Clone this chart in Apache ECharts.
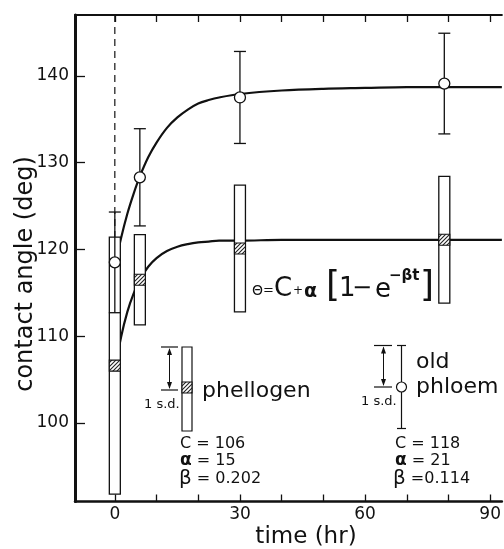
<!DOCTYPE html>
<html><head><meta charset="utf-8">
<script src="https://cdn.jsdelivr.net/npm/echarts@6/dist/echarts.min.js"></script>
<style>html,body{margin:0;padding:0;background:#fff}#c{width:504px;height:549px}</style>
</head><body><div id="c"></div>
<script>
const FONT = '"DejaVu Sans", sans-serif';
const INK = '#111';

// ---- data ----
const sampleTimes = [0, 6, 30, 79];
const phloemMean = [118.5, 128.3, 137.5, 139.1];
const phloemSd = [5.8, 5.6, 5.3, 5.8];
const phellogenMean = [106.6, 116.5, 120.1, 121.1];
const phellogenSd = [14.8, 5.2, 7.3, 7.3];
const fitTimes = [0, 1.5, 3, 4.5, 6, 8, 10, 12.5, 15, 17.5, 20, 22.5, 25, 30, 40, 50, 60, 70, 80, 92.8];
const phloemFit = [118, 121.3, 124.1, 126.4, 128.4, 130.6, 132.3, 134.0, 135.2, 136.1, 136.8, 137.2, 137.5, 137.9, 138.3, 138.5, 138.6, 138.7, 138.7, 138.7];
const phellogenFit = [106, 109.9, 112.8, 114.9, 116.5, 118.0, 119.0, 119.8, 120.3, 120.6, 120.8, 120.9, 121.0, 121.0, 121.1, 121.1, 121.1, 121.1, 121.1, 121.1];
const xTicks = [0, 10, 20, 30, 40, 50, 60, 70, 80, 90];
const xLabels = [0, 30, 60, 90];
const yTicks = [100, 110, 120, 130, 140];
const dashedGuide = [[0, 147], [0, 121.4]];

function hatchCanvas() {
  const c = document.createElement('canvas');
  c.width = 4; c.height = 4;
  const g = c.getContext('2d');
  g.fillStyle = '#fff'; g.fillRect(0, 0, 4, 4);
  g.strokeStyle = '#222'; g.lineWidth = 1.1;
  g.beginPath();
  g.moveTo(-1, 5); g.lineTo(5, -1);
  g.moveTo(-1, 1); g.lineTo(1, -1);
  g.moveTo(3, 5); g.lineTo(5, 3);
  g.stroke();
  return c;
}
const hatchFill = { image: hatchCanvas(), repeat: 'repeat' };

const chart = echarts.init(document.getElementById('c'), null, { renderer: 'canvas' });

function line(x1, y1, x2, y2, w) {
  return { type: 'line', shape: { x1, y1, x2, y2 }, style: { stroke: INK, lineWidth: w || 1.2 }, z: 20 };
}
function txt(x, y, text, size, opts) {
  opts = opts || {};
  return { type: 'text', x, y, z: 20, rotation: opts.rotation || 0,
    style: { text, fill: INK, font: (opts.weight || 'normal') + ' ' + size + 'px ' + FONT,
      align: opts.align || 'left', verticalAlign: 'middle' } };
}
function bracket(xl, xr, yTop, yBot, xv) {
  return [
    line(xl, yTop, xr, yTop, 1.2), line(xl, yBot, xr, yBot, 1.2),
    line(xv, yTop + 2, xv, yBot - 2, 1),
    { type: 'polygon', z: 20, shape: { points: [[xv, yTop + 1], [xv - 2.5, yTop + 8], [xv + 2.5, yTop + 8]] }, style: { fill: INK } },
    { type: 'polygon', z: 20, shape: { points: [[xv, yBot - 1], [xv - 2.5, yBot - 8], [xv + 2.5, yBot - 8]] }, style: { fill: INK } }
  ];
}

const graphics = [];
// axis titles
graphics.push(txt(26, 274, 'contact angle (deg)', 24, { rotation: Math.PI / 2, align: 'center' }));
graphics.push(txt(306, 537, 'time (hr)', 23, { align: 'center' }));
// phellogen legend
graphics.push({ type: 'rect', z: 20, shape: { x: 182, y: 347, width: 10, height: 84 }, style: { fill: '#fff', stroke: INK, lineWidth: 1.2 } });
graphics.push({ type: 'rect', z: 21, shape: { x: 182, y: 382, width: 10, height: 11 }, style: { fill: hatchFill, stroke: INK, lineWidth: 1.1 } });
graphics.push(...bracket(161, 178, 347, 390, 169.5));
graphics.push(txt(144, 405, '1 s.d.', 13));
graphics.push(txt(202, 391, 'phellogen', 22));
graphics.push(txt(180, 444, 'C = 106', 16));
graphics.push({ type: 'text', x: 180, y: 461, z: 20, style: { text: '{a|α} = 15', fill: INK, font: '16px ' + FONT, verticalAlign: 'middle', rich: { a: { font: 'bold 17px ' + FONT, fill: INK } } } });
graphics.push({ type: 'text', x: 179, y: 479, z: 20, style: { text: '{b|β} = 0.202', fill: INK, font: '16px ' + FONT, verticalAlign: 'middle', rich: { b: { font: '20px ' + FONT, fill: INK } } } });
// old phloem legend
graphics.push(line(401.5, 345.5, 401.5, 428.5, 1.2));
graphics.push(line(397, 345.5, 406, 345.5, 1.2));
graphics.push(line(397, 428.5, 406, 428.5, 1.2));
graphics.push({ type: 'circle', z: 21, shape: { cx: 401.5, cy: 387, r: 5 }, style: { fill: '#fff', stroke: INK, lineWidth: 1.2 } });
graphics.push(...bracket(374, 392, 345.5, 387, 383.5));
graphics.push(txt(361, 402, '1 s.d.', 13));
graphics.push(txt(416, 362, 'old', 22));
graphics.push(txt(416, 387, 'phloem', 22));
graphics.push(txt(395, 444, 'C = 118', 16));
graphics.push({ type: 'text', x: 395, y: 461, z: 20, style: { text: '{a|α} = 21', fill: INK, font: '16px ' + FONT, verticalAlign: 'middle', rich: { a: { font: 'bold 17px ' + FONT, fill: INK } } } });
graphics.push({ type: 'text', x: 393, y: 479, z: 20, style: { text: '{b|β} =0.114', fill: INK, font: '16px ' + FONT, verticalAlign: 'middle', rich: { b: { font: '20px ' + FONT, fill: INK } } } });
// formula
graphics.push(txt(252, 291, 'Θ', 14));
graphics.push(txt(263, 291, '=', 13));
graphics.push(txt(274, 289, 'C', 26));
graphics.push(txt(293, 291, '+', 12));
graphics.push(txt(304, 292, 'α', 19, { weight: 'bold' }));
graphics.push(txt(326, 287, '[', 36));
graphics.push(txt(339, 289, '1', 26));
graphics.push(txt(352, 289, '−', 24));
graphics.push(txt(375, 290, 'e', 26));
graphics.push(txt(389, 276, '−βt', 15, { weight: 'bold' }));
graphics.push(txt(420, 287, ']', 36));

const xBase = {
  type: 'value', min: -9.55, max: 92.8,
  axisLine: { show: true, onZero: false, lineStyle: { color: INK, width: 2.5 } },
  axisTick: { show: true, inside: true, length: 7, customValues: xTicks, lineStyle: { color: INK, width: 1.3 } },
  splitLine: { show: false }
};

const option = {
  animation: false,
  backgroundColor: '#fff',
  grid: { left: 75, right: 0, top: 15, bottom: 47.5, containLabel: false },
  xAxis: [
    Object.assign({}, xBase, { position: 'bottom',
      axisLabel: { show: true, customValues: xLabels, color: INK, fontSize: 17, fontFamily: FONT, margin: 5 } }),
    Object.assign({}, xBase, { position: 'top', axisLine: { show: true, onZero: false, lineStyle: { color: INK, width: 2 } },
      axisLabel: { show: false } })
  ],
  yAxis: {
    type: 'value', min: 90.95, max: 147,
    axisLine: { show: true, onZero: false, lineStyle: { color: INK, width: 3 } },
    axisTick: { show: true, inside: true, length: 10, customValues: yTicks, lineStyle: { color: INK, width: 1.3 } },
    axisLabel: { show: true, customValues: yTicks, color: INK, fontSize: 17, fontFamily: FONT, margin: 6 },
    splitLine: { show: false }
  },
  graphic: graphics,
  series: [
    { type: 'line', data: dashedGuide, symbol: 'none', z: 1, silent: true,
      lineStyle: { color: INK, width: 1.2, type: [7, 5] } },
    { type: 'line', data: fitTimes.map((t, i) => [t, phloemFit[i]]), symbol: 'none', smooth: 0.35, z: 2,
      lineStyle: { color: INK, width: 2.2 } },
    { type: 'line', data: fitTimes.map((t, i) => [t, phellogenFit[i]]), symbol: 'none', smooth: 0.35, z: 2,
      lineStyle: { color: INK, width: 2.2 } },
    { type: 'custom', z: 3,
      data: sampleTimes.map((t, i) => [t, phellogenMean[i], phellogenSd[i]]),
      encode: { x: 0, y: 1 },
      renderItem: function (params, api) {
        const t = api.value(0), m = api.value(1), s = api.value(2);
        const top = api.coord([t, m + s]), bot = api.coord([t, m - s]), mid = api.coord([t, m]);
        const w = 11, x = top[0] - w / 2;
        return { type: 'group', children: [
          { type: 'rect', shape: { x, y: top[1], width: w, height: bot[1] - top[1] }, style: { fill: '#fff', stroke: INK, lineWidth: 1.3 } },
          { type: 'rect', shape: { x, y: mid[1] - 5.5, width: w, height: 11 }, style: { fill: hatchFill, stroke: INK, lineWidth: 1.1 } }
        ] };
      } },
    { type: 'custom', z: 4,
      data: sampleTimes.map((t, i) => [t, phloemMean[i], phloemSd[i]]),
      encode: { x: 0, y: 1 },
      renderItem: function (params, api) {
        const t = api.value(0), m = api.value(1), s = api.value(2);
        const a = api.coord([t, m + s]), b = api.coord([t, m - s]);
        const h = 6;
        const st = { stroke: INK, lineWidth: 1.3 };
        return { type: 'group', children: [
          { type: 'line', shape: { x1: a[0], y1: a[1], x2: b[0], y2: b[1] }, style: st },
          { type: 'line', shape: { x1: a[0] - h, y1: a[1], x2: a[0] + h, y2: a[1] }, style: st },
          { type: 'line', shape: { x1: b[0] - h, y1: b[1], x2: b[0] + h, y2: b[1] }, style: st }
        ] };
      } },
    { type: 'scatter', z: 5, data: sampleTimes.map((t, i) => [t, phloemMean[i]]),
      symbol: 'circle', symbolSize: 11,
      itemStyle: { color: '#fff', borderColor: INK, borderWidth: 1.3, opacity: 1 } }
  ]
};
chart.setOption(option);
</script></body></html>
